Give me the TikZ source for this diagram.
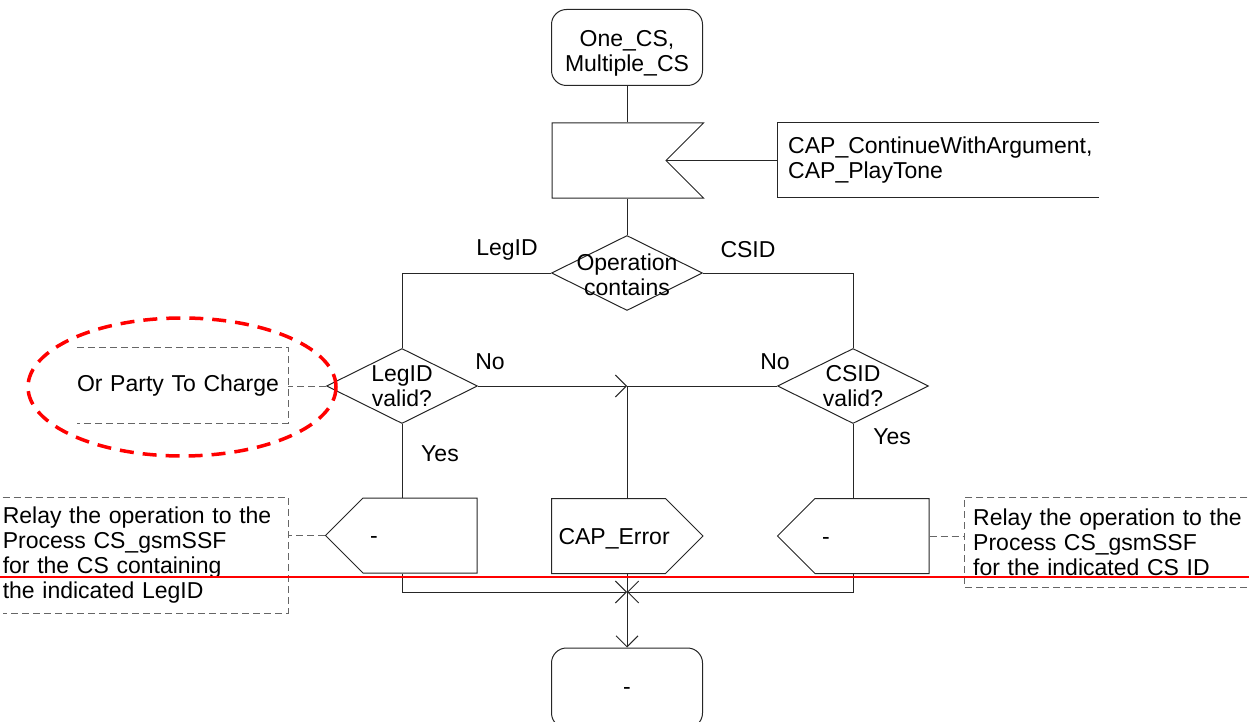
\documentclass[tikz,border=0pt]{standalone}
\usepackage{fontspec}
\setmainfont{Liberation Sans}
\usetikzlibrary{shapes.geometric,shapes.symbols,arrows.meta}

\tikzset{
  base/.style={font=\fontsize{23}{25}\selectfont},
  line/.style={line width=1pt, draw=black!85},
  state/.style={base, line, rectangle, rounded corners=15pt, minimum width=151pt, minimum height=76pt, align=center, inner sep=0pt},
  decision/.style={line, diamond, minimum width=151pt, minimum height=75pt, inner sep=0pt},
  sdlsig/.style={base, line, signal, signal pointer angle=90, text width=100pt, text height=16pt, text depth=0pt, inner xsep=7pt, inner ysep=0pt, minimum height=75pt, align=left},
  note/.style={base, rectangle, inner ysep=0pt, align=left},
  cmt/.style={line width=1pt, draw=black!60, dash pattern=on 7pt off 4pt},
  lbl/.style={base, align=center, inner sep=0pt},
  flow/.style={line, -{Straight Barb[length=11pt,width=22pt]}},
}

\begin{document}
\begin{tikzpicture}[x=1pt, y=-1pt]
  \useasboundingbox (0,0) rectangle (1249,722);

  % states
  \node[state, label={[lbl, yshift=-6pt]center:One\_CS,\\Multiple\_CS}] (start) at (627,47.5) {};
  \node[state, minimum height=80pt, label={[lbl, yshift=-3pt]center:-}] (stop) at (627,688) {};

  % input and its signals
  \node[sdlsig, signal from=east, signal to=nowhere] (recv) at (609,160.5) {};
  \node[note, text width=300pt, inner xsep=11pt, minimum height=74pt, anchor=west] (recvnote) at (777,160) {CAP\_ContinueWithArgument,\\CAP\_PlayTone};

  % decisions
  \node[decision, label={[lbl, yshift=-2pt]center:Operation\\contains}] (optype) at (627,273) {};
  \node[decision, label={[lbl]center:LegID\\valid?}] (legok) at (402,386) {};
  \node[decision, label={[lbl]center:CSID\\valid?}] (csok) at (853,386) {};

  \node[lbl] (lbllegid) at (507,250) {LegID};
  \node[lbl] (lblcsid) at (748,250) {CSID};
  \node[lbl] (lbllegno) at (490,362) {No};
  \node[lbl] (lblcsno) at (775,362) {No};
  \node[lbl] (lbllegyes) at (440,454) {Yes};
  \node[lbl] (lblcsyes) at (892,437) {Yes};

  % outputs
  \node[sdlsig, signal to=west] (legout) at (420,535.5) {-};
  \node[sdlsig, signal to=east] (errout) at (608.5,536) {CAP\_Error};
  \node[sdlsig, signal to=west] (csout) at (872,536) {-};

  % comments
  \node[note, text width=211pt, inner xsep=0pt, minimum height=75pt] (partynote) at (182.5,385.5) {Or Party To Charge};
  \node[note, text width=285pt, inner xsep=0pt, minimum height=115pt, anchor=east] (legnote) at (288,555.5) {Relay the operation to the\\Process CS\_gsmSSF\\for the CS containing\\the indicated LegID};
  \node[note, text width=276pt, inner xsep=9pt, minimum height=89pt, anchor=west] (csnote) at (964,542.5) {Relay the operation to the\\Process CS\_gsmSSF\\for the indicated CS ID};

  \draw[line] (recvnote.north east) -- (recvnote.north west) -- (recvnote.south west) -- (recvnote.south east);
  \draw[cmt] (partynote.north west) -- (partynote.north east) -- (partynote.south east) -- (partynote.south west);
  \draw[cmt] (legnote.north west) -- (legnote.north east) -- (legnote.south east) -- (legnote.south west);
  \draw[cmt] (csnote.north east) -- (csnote.north west) -- (csnote.south west) -- (csnote.south east);
  \draw[line] (recv.east) -- (recv.east -| recvnote.west);
  \draw[cmt] (legok.west) -- (legok.west -| partynote.east);
  \draw[cmt] (legout.west) -- (legout.west -| legnote.east);
  \draw[cmt] (csout.east) -- (csout.east -| csnote.west);

  % flow
  \coordinate (nojoin) at (627,386);
  \coordinate (join) at (627,592);
  \draw[line] (start.south) -- (start.south |- recv.north);
  \draw[line] (optype.north) -- (optype.north |- recv.south);
  \draw[line] (optype.west) -| (legok.north);
  \draw[line] (optype.east) -| (csok.north);
  \draw[flow] (legok.east) -- (nojoin);
  \draw[line] (csok.west) -- (nojoin);
  \draw[line] (nojoin) -- (nojoin |- errout.north);
  \draw[line] (legok.south) -- (legok.south |- legout.north);
  \draw[line] (csok.south) -- (csok.south |- csout.north);
  \draw[flow] (legok.south |- legout.south) |- (join);
  \draw[flow] (csok.south |- csout.south) |- (join);
  \draw[line] (join |- errout.south) -- (join);
  \draw[flow] (join) -- (stop.north);

  % marks
  \draw[red, line width=3.5pt, dash pattern=on 14pt off 9pt] (182,387) ellipse (154 and 69);
  \draw[red, line width=2pt] (0,577) -- (1249,577);
\end{tikzpicture}
\end{document}
